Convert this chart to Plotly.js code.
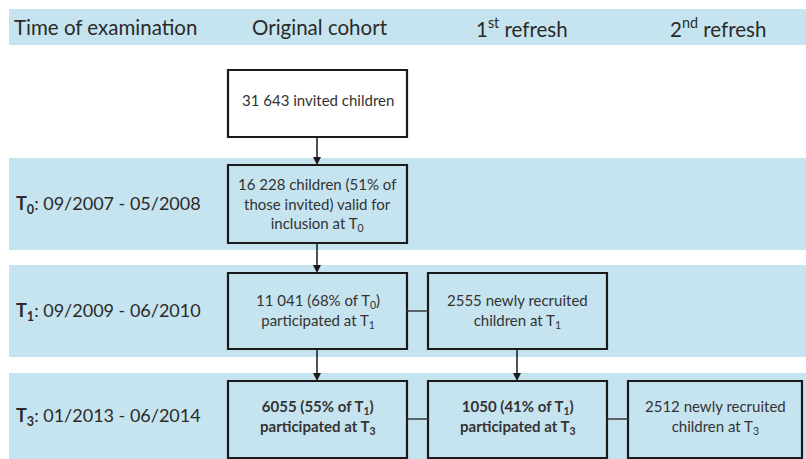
<!DOCTYPE html>
<html>
<head>
<meta charset="utf-8">
<script src="https://cdn.plot.ly/plotly-3.0.1.min.js"></script>
<style>html,body{margin:0;padding:0;background:#fff;}#chart{width:806px;height:459px;}</style>
</head>
<body>
<div id="chart"></div>
<script>
// ---- content ----
const columnHeaders = ["Time of examination", "Original cohort", "1<sup>st</sup> refresh", "2<sup>nd</sup> refresh"];
const stageLabels = ["<b>T<sub>0</sub></b>: 09/2007 - 05/2008", "<b>T<sub>1</sub></b>: 09/2009 - 06/2010", "<b>T<sub>3</sub></b>: 01/2013 - 06/2014"];
const invitedText = ["31 643 invited children"];
const originalCohort = [
  "16 228 children (51% of<br>those invited) valid for<br>inclusion at T<sub>0</sub>",
  "11 041 (68% of T<sub>0</sub>)<br>participated at T<sub>1</sub>",
  "<b>6055 (55% of T<sub>1</sub>)<br>participated at T<sub>3</sub></b>"
];
const firstRefresh = [
  "2555 newly recruited<br>children at T<sub>1</sub>",
  "<b>1050 (41% of T<sub>1</sub>)<br>participated at T<sub>3</sub></b>"
];
const secondRefresh = ["2512 newly recruited<br>children at T<sub>3</sub>"];

// ---- layout geometry (pixel-like data units) ----
const BAND = "rgb(198,228,239)";
const INK = "#2a2a2a";
const FONT = "Lato, 'Open Sans', sans-serif";
const bands = {header:[9,45], t0:[158,250], t1:[265,357], t3:[373,465]};
const cols = [[228,407],[428,607],[628,802]];
const headerX = [12, 250, 474, 668];
const rows = {inv:[70,137], t0:[165,243], t1:[273,349], t3:[381,458]};

const shapes = [];
const annotations = [];
Object.values(bands).forEach(b => shapes.push({type:'rect', xref:'x', yref:'y', x0:9, x1:806, y0:b[0], y1:b[1], fillcolor:BAND, line:{width:0}, layer:'below'}));

function box(col, row, fill){
  shapes.push({type:'rect', xref:'x', yref:'y', x0:cols[col][0], x1:cols[col][1], y0:rows[row][0], y1:rows[row][1], fillcolor:fill||'rgba(0,0,0,0)', line:{color:'#1a1a1a', width:2.2}});
}
function boxText(col, row, txt, dy){
  annotations.push({xref:'x', yref:'y', x:(cols[col][0]+cols[col][1])/2, y:(rows[row][0]+rows[row][1])/2 + (dy||0), text:txt, showarrow:false, font:{family:FONT, size:15, color:'#333'}, align:'center', xanchor:'center', yanchor:'middle'});
}
function line(x0,y0,x1,y1,c){
  shapes.push({type:'line', xref:'x', yref:'y', x0:x0, y0:y0, x1:x1, y1:y1, line:{color:c||'#3a3a3a', width:1.5}});
}
function arrow(x,y0,y1){
  line(x, y0, x, y1-6, '#1a1a1a');
  shapes.push({type:'path', xref:'x', yref:'y', path:`M ${x-4} ${y1-8} L ${x+4} ${y1-8} L ${x} ${y1} Z`, fillcolor:'#1a1a1a', line:{width:0}});
}

// header texts
columnHeaders.forEach((t,i) => annotations.push({xref:'x', yref:'y', x:headerX[i], y:27, text:t, showarrow:false, xanchor:'left', yanchor:'middle', font:{family:FONT, size:20.5, color:INK}}));
// stage labels
[bands.t0, bands.t1, [373,459]].forEach((b,i) => annotations.push({xref:'x', yref:'y', x:14, y:(b[0]+b[1])/2, text:stageLabels[i], showarrow:false, xanchor:'left', yanchor:'middle', font:{family:FONT, size:18, color:INK}}));

// boxes
box(0,'inv','#ffffff'); boxText(0,'inv',invitedText[0], -4);
['t0','t1','t3'].forEach((r,i) => { box(0,r); boxText(0,r,originalCohort[i], i===2?-3:0); });
box(1,'t1'); boxText(1,'t1',firstRefresh[0]);
box(1,'t3'); boxText(1,'t3',firstRefresh[1], -3);
box(2,'t3'); boxText(2,'t3',secondRefresh[0], -3);

// connectors
line(cols[0][1], 311, cols[1][0], 311);
line(cols[0][1], 419, cols[1][0], 419);
line(cols[1][1], 419, cols[2][0], 419);
// arrows
arrow(317, rows.inv[1], rows.t0[0]);
arrow(317, rows.t0[1], rows.t1[0]);
arrow(317, rows.t1[1], rows.t3[0]);
arrow(517, rows.t1[1], rows.t3[0]);

const layout = {
  width:806, height:459, margin:{l:0,r:0,t:0,b:0},
  paper_bgcolor:'#ffffff', plot_bgcolor:'#ffffff',
  xaxis:{range:[0,806], visible:false, fixedrange:true},
  yaxis:{range:[459,0], visible:false, fixedrange:true},
  shapes:shapes, annotations:annotations, showlegend:false
};
Plotly.newPlot('chart', [{x:[0], y:[0], mode:'markers', marker:{opacity:0}, hoverinfo:'skip'}], layout, {staticPlot:true, displayModeBar:false});
</script>
</body>
</html>
